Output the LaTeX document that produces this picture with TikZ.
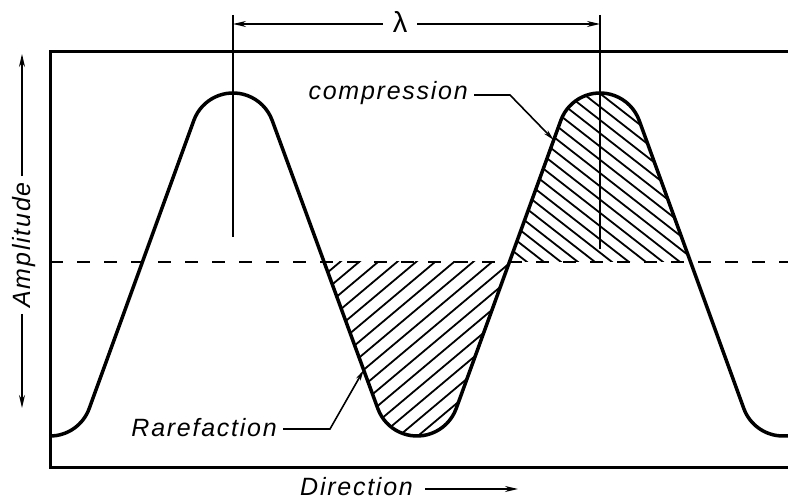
\documentclass[tikz,border=0pt]{standalone}
\usepackage{fontspec}
\setmainfont{Liberation Sans}
\newfontfamily\labfont[LetterSpace=7]{Liberation Sans}
\usetikzlibrary{arrows.meta}
\begin{document}
\begin{tikzpicture}[x=1pt,y=1pt,
  wave/.style={line width=3.5pt, line join=round},
  frame/.style={line width=3pt},
  thinline/.style={line width=1.6pt},
  hatch/.style={line width=1.8pt},
  midline/.style={line width=2.5pt, dash pattern=on 13pt off 14pt},
  arr/.style={-{Stealth[length=13pt,width=6pt]}},
  leadarr/.style={-{Stealth[length=11pt,width=5pt]}},
  lbl/.style={font=\labfont\itshape\fontsize{25}{29}\selectfont, inner ysep=0pt},
]
\useasboundingbox (0,0) rectangle (788,500);

% hatching: compression (above midline, peak 2)
\begin{scope}
  \clip (440,238) rectangle (800,450);
  \clip (456.18,91.44) -- (560.82,379.56) arc[start angle=160,end angle=20,radius=41.7] -- (743.82,91.44) -- cycle;
  \foreach \k in {-3,...,25} {
    \draw[hatch] ({527+17*\k-250},{238+195}) -- ({527+17*\k+250},{238-195});
  }
\end{scope}

% hatching: rarefaction (below midline, trough 2)
\begin{scope}
  \clip (250,0) rectangle (600,238);
  \clip (272.18,379.56) -- (377.82,91.44) arc[start angle=200,end angle=340,radius=41.7] -- (560.82,379.56) -- cycle;
  \foreach \k in {-3,...,22} {
    \draw[hatch] ({340+19*\k-250},{238-210}) -- ({340+19*\k+250},{238+210});
  }
\end{scope}

% dashed mid line
\coordinate (midL) at (50,238);
\coordinate (midR) at (790,238);
\draw[midline] (midL) -- (midR);

% frame (open on the right)
\draw[frame] (790,448) -- (50,448) -- (50,32) -- (790,32);

% wave
\draw[wave] (50,64) arc[start angle=270,end angle=340,radius=41.7]
  -- (193.82,379.56) arc[start angle=160,end angle=20,radius=41.7]
  -- (377.82,91.44) arc[start angle=200,end angle=340,radius=41.7]
  -- (560.82,379.56) arc[start angle=160,end angle=20,radius=41.7]
  -- (743.82,91.44) arc[start angle=200,end angle=270,radius=41.7]
  -- (790,64);

% wavelength markers
\coordinate (v1top) at (233,485);
\coordinate (v1bot) at (233,263);
\coordinate (v2top) at (600,485);
\coordinate (v2bot) at (600,251);
\draw[thinline] (v1top) -- (v1bot);
\draw[thinline] (v2top) -- (v2bot);
\coordinate (dimL) at (233,476);
\coordinate (dimR) at (600,476);
\node[font=\fontsize{29}{32}\selectfont, inner xsep=10pt] (lam) at (400,478) {λ};
\draw[thinline, arr] (lam.west |- dimL) -- (dimL);
\draw[thinline, arr] (lam.east |- dimR) -- (dimR);

% compression label
\node[lbl, inner xsep=6pt, anchor=base east] (comp) at (474,400) {compression};
\coordinate (cBend) at (510,405);
\coordinate (cTip) at (553.7,360);
\draw[thinline, leadarr] (comp.east |- cBend) -- (cBend) -- (cTip);

% rarefaction label
\node[lbl, inner xsep=6pt, anchor=base east] (rare) at (283,63) {Rarefaction};
\coordinate (rBend) at (330,71);
\coordinate (rTip) at (363.7,130);
\draw[thinline, leadarr] (rare.east |- rBend) -- (rBend) -- (rTip);

% direction label
\node[lbl, inner xsep=12pt, anchor=base west] (dir) at (288,4) {Direction};
\coordinate (dirEnd) at (518,11);
\draw[thinline, arr] (dir.east |- dirEnd) -- (dirEnd);

% amplitude label
\node[lbl, rotate=90, inner xsep=6pt] (amp) at (24,255) {Amplitude};
\coordinate (ampTop) at (22,446);
\coordinate (ampBot) at (22,92);
\draw[thinline, arr] (ampTop |- amp.east) -- (ampTop);
\draw[thinline, arr] (ampBot |- amp.west) -- (ampBot);
\end{tikzpicture}
\end{document}
